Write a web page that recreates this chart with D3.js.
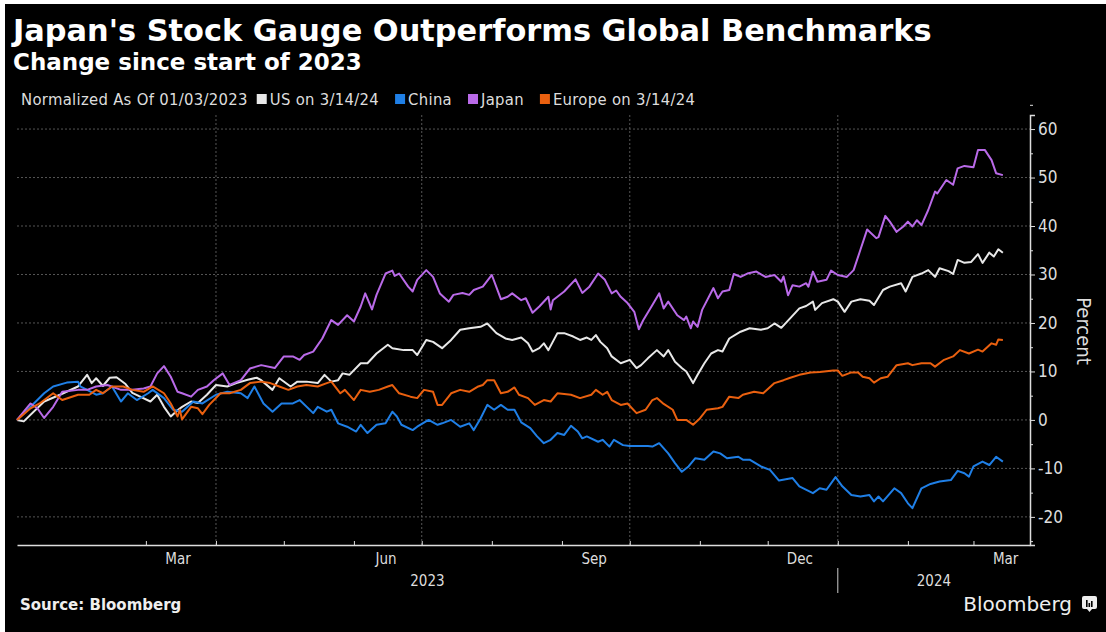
<!DOCTYPE html>
<html>
<head>
<meta charset="utf-8">
<script src="https://cdn.jsdelivr.net/npm/d3@7"></script>
<style>
  html, body { margin: 0; padding: 0; background: #fff; }
  svg { display: block; }
  .cond { font-family: "DejaVu Sans Condensed", "Liberation Sans Narrow", "DejaVu Sans", sans-serif; font-stretch: condensed; }
  .bold { font-family: "DejaVu Sans", sans-serif; font-weight: bold; }
</style>
</head>
<body>
<svg id="chart"></svg>
<script>
// data: [days since start, % change]
var startDate = "2023-01-03";
var endDate = "2024-03-26";

var usSeries = [[0,0],[3,-0.3],[12,3.8],[19,5.2],[27,6.9],[31,9.3],[33,7.6],[35,8.6],[38,7.0],[41,8.7],[44,8.8],[48,7.4],[51,5.6],[54,4.9],[59,3.8],[62,5.2],[65,2.7],[68,0.7],[71,2.0],[73,2.7],[77,3.8],[80,3.5],[84,5.2],[88,7.2],[93,6.9],[97,7.6],[102,8.3],[106,8.7],[108,8.2],[113,6.2],[116,8.6],[121,6.9],[124,7.9],[128,7.9],[133,7.6],[136,9.3],[139,7.9],[142,8.2],[144,9.6],[147,9.3],[152,11.7],[155,11.7],[159,13.7],[164,15.5],[166,14.8],[171,14.4],[175,14.4],[177,13.4],[181,16.5],[184,16.1],[188,14.8],[192,16.5],[196,18.6],[200,18.9],[205,19.2],[208,19.9],[212,17.9],[216,16.8],[219,16.5],[223,17.0],[226,15.8],[228,14.1],[231,14.8],[233,15.8],[235,14.4],[239,17.9],[242,17.9],[246,17.2],[249,16.5],[252,17.0],[254,16.5],[256,17.5],[258,16.1],[261,14.8],[263,13.1],[267,11.7],[271,12.4],[274,10.7],[276,11.3],[279,12.7],[283,14.4],[286,13.1],[288,14.4],[291,12.0],[294,10.7],[296,10.0],[299,7.6],[301,9.3],[304,11.7],[307,13.7],[310,14.4],[312,14.1],[315,16.8],[320,18.2],[324,18.9],[329,18.6],[332,18.9],[335,19.9],[338,19.0],[342,21.0],[346,23.0],[349,23.5],[352,24.4],[353,22.7],[356,24.1],[361,24.9],[363,24.4],[366,22.3],[369,24.4],[373,24.9],[377,24.6],[379,23.7],[383,26.8],[386,27.5],[391,28.2],[393,26.5],[396,29.5],[400,30.2],[403,30.9],[406,29.5],[408,31.3],[412,30.7],[414,30.1],[416,33.0],[419,32.4],[422,32.6],[425,34.2],[427,32.4],[430,34.5],[432,33.7],[434,35.2],[436,34.5]];

var chinaSeries = [[0,0],[6,2.7],[12,5.5],[16,6.9],[22,7.7],[27,7.9],[28,6.9],[31,6.2],[35,5.2],[38,5.5],[42,6.9],[46,3.8],[49,5.5],[53,4.1],[58,5.5],[60,6.2],[65,4.5],[69,2.1],[73,1.7],[78,3.8],[82,3.4],[88,5.2],[93,5.8],[99,5.5],[102,4.5],[105,6.9],[109,3.4],[113,1.7],[117,3.4],[122,3.4],[125,4.1],[131,1.4],[133,2.7],[137,1.7],[139,2.1],[142,-0.7],[146,-1.4],[150,-2.4],[152,-1.0],[155,-2.7],[159,-1.0],[163,-0.7],[166,1.7],[168,0.7],[170,-1.0],[175,-2.1],[177,-1.4],[182,0],[186,-1.0],[188,-0.7],[192,0],[196,-1.4],[200,-0.7],[202,-2.1],[205,0.3],[208,3.1],[211,2.1],[214,3.1],[217,2.1],[220,2.1],[223,-0.5],[227,-1.7],[230,-3.4],[233,-4.8],[236,-4.1],[239,-2.7],[242,-3.1],[245,-1.2],[248,-2.4],[250,-3.8],[252,-3.4],[257,-4.5],[259,-4.1],[262,-5.5],[264,-4.1],[268,-5.2],[271,-5.4],[279,-5.4],[281,-5.5],[284,-4.8],[288,-6.9],[291,-8.9],[294,-10.7],[297,-9.6],[300,-7.9],[304,-8.2],[308,-6.5],[311,-6.9],[314,-7.9],[319,-7.6],[321,-8.2],[324,-8.2],[329,-9.6],[333,-10.3],[337,-12.5],[343,-12.0],[346,-13.7],[352,-15.1],[355,-14.1],[358,-14.4],[362,-11.8],[365,-13.7],[369,-15.5],[373,-15.8],[377,-15.5],[379,-16.8],[381,-15.8],[383,-16.8],[388,-14.1],[391,-15.1],[394,-17.2],[396,-18.2],[400,-14.1],[404,-13.2],[408,-12.7],[413,-12.4],[416,-10.5],[419,-11.0],[421,-11.7],[423,-9.6],[427,-8.6],[430,-9.3],[433,-7.6],[436,-8.6]];

var japanSeries = [[0,0],[6,3.4],[9,2.4],[12,0.4],[16,2.7],[20,5.8],[27,6.2],[31,6.2],[35,6.9],[40,7.2],[46,6.2],[50,6.2],[56,6.5],[59,6.9],[62,9.6],[65,11.1],[68,8.9],[71,5.8],[73,5.5],[77,4.8],[80,6.2],[84,6.9],[87,8.2],[91,9.6],[94,7.2],[99,8.2],[103,10.6],[108,11.3],[114,10.7],[118,13.1],[122,13.1],[125,12.4],[127,13.4],[131,14.1],[135,16.8],[139,20.6],[142,19.6],[146,21.6],[149,20.3],[152,23.4],[154,26.1],[157,22.8],[159,25.8],[163,30.2],[166,30.8],[167,29.7],[169,30.2],[173,27.5],[175,26.5],[177,28.9],[181,30.9],[184,29.5],[187,26.1],[191,24.4],[193,25.8],[197,26.2],[200,25.8],[202,26.8],[206,27.5],[210,29.9],[214,24.9],[217,25.4],[219,26.1],[223,24.7],[225,25.1],[228,22.1],[231,23.4],[235,25.4],[236,22.8],[237,24.7],[242,26.5],[247,29.0],[250,26.2],[253,27.4],[257,30.2],[260,28.9],[263,26.1],[265,26.7],[267,25.4],[270,24.1],[273,22.3],[275,18.7],[277,20.6],[281,23.7],[284,26.1],[286,23.0],[288,24.4],[292,21.6],[295,20.6],[296,21.3],[298,18.9],[299,20.3],[301,19.2],[303,22.7],[308,27.2],[310,25.1],[312,26.5],[315,26.8],[317,30.1],[320,29.5],[323,30.2],[327,30.6],[331,29.5],[335,29.9],[338,28.5],[339,29.6],[341,25.7],[343,27.8],[346,27.5],[349,28.2],[350,27.5],[352,30.6],[354,28.5],[358,28.9],[360,30.8],[363,29.9],[367,29.5],[370,30.9],[373,35.1],[376,39.3],[380,37.5],[381,37.7],[384,42.1],[386,40.9],[389,38.8],[392,39.9],[394,40.9],[396,39.9],[398,41.2],[400,40.2],[403,43.3],[406,47.1],[407,46.7],[411,49.5],[414,48.5],[416,51.9],[419,52.4],[423,52.1],[425,55.7],[428,55.7],[431,53.6],[433,50.9],[436,50.5]];

var europeSeries = [[0,0],[6,2.4],[10,3.4],[16,5.5],[20,4.1],[27,5.2],[32,5.2],[35,6.2],[38,5.5],[42,6.9],[47,6.9],[51,6.2],[56,5.8],[60,6.9],[65,5.5],[68,3.4],[71,0.7],[72,2.1],[73,0.1],[77,2.7],[80,2.4],[82,1.2],[85,3.1],[90,5.5],[94,5.5],[99,6.2],[103,7.6],[108,7.9],[112,7.6],[116,6.9],[120,6.2],[124,6.9],[128,7.2],[133,6.9],[137,7.6],[139,7.9],[143,5.5],[145,6.2],[149,4.1],[152,6.2],[156,5.8],[160,6.2],[164,6.9],[166,7.2],[169,5.5],[174,4.8],[177,4.5],[180,6.2],[184,5.8],[186,3.1],[188,3.1],[192,5.5],[196,6.2],[200,5.8],[204,6.9],[206,7.2],[208,8.2],[211,8.2],[214,5.5],[217,5.8],[220,6.7],[222,5.2],[226,4.5],[229,3.1],[233,4.1],[236,3.8],[239,5.5],[245,5.2],[249,4.5],[254,5.2],[256,6.2],[259,5.2],[261,5.8],[263,4.1],[267,3.1],[270,3.4],[274,1.4],[278,2.1],[281,4.1],[283,4.5],[286,3.3],[290,2.1],[292,0],[296,0],[299,-1.0],[302,0.3],[305,2.1],[310,2.4],[312,2.7],[315,4.8],[319,4.5],[321,5.2],[326,5.8],[330,5.5],[335,7.6],[339,8.2],[342,8.7],[346,9.3],[351,9.8],[355,9.9],[361,10.2],[363,10.2],[365,9.1],[369,9.8],[372,9.8],[374,8.9],[377,8.6],[379,7.7],[382,8.6],[385,8.9],[389,11.3],[394,11.7],[396,11.3],[400,11.7],[404,11.7],[406,11.0],[410,12.4],[414,13.1],[417,14.4],[421,13.7],[425,14.5],[427,14.1],[431,15.8],[433,15.5],[434,16.6],[436,16.5]];

var seriesNames = ["US on 3/14/24", "China", "Japan", "Europe on 3/14/24"];
var seriesData = [usSeries, chinaSeries, japanSeries, europeSeries];
var seriesColors = ["#e8e8e8", "#1f7fe6", "#b96ae8", "#ea600f"];

var yTicks = [-20, -10, 0, 10, 20, 30, 40, 50, 60];
var monthLabels = ["Mar", "Jun", "Sep", "Dec", "Mar"];
var monthLabelDates = ["2023-03-15", "2023-06-15", "2023-09-15", "2023-12-15", "2024-03-15"];
var yearLabels = ["2023", "2024"];

var title = "Japan's Stock Gauge Outperforms Global Benchmarks";
var subtitle = "Change since start of 2023";
var legendNote = "Normalized As Of 01/03/2023";

var svgWidth = 1106, svgHeight = 632;
var plot = { left: 17, right: 1030, top: 115, bottom: 545 };

var svg = d3.select("#chart")
  .attr("width", svgWidth)
  .attr("height", svgHeight);

svg.append("rect").attr("width", svgWidth).attr("height", svgHeight).attr("fill", "#fff");
svg.append("rect").attr("x", 5).attr("y", 4)
  .attr("width", svgWidth - 5).attr("height", svgHeight - 4).attr("fill", "#000");

var parse = d3.utcParse("%Y-%m-%d");
var t0 = parse(startDate);

var x = d3.scaleUtc()
  .domain([t0, parse(endDate)])
  .range([plot.left, plot.right]);

var y = d3.scaleLinear()
  .domain([-25.8, 62.9])
  .range([plot.bottom, plot.top]);

//grid lines
svg.append("g")
  .selectAll("line")
  .data(yTicks)
  .enter().append("line")
  .attr("x1", plot.left).attr("x2", plot.right)
  .attr("y1", d => y(d)).attr("y2", d => y(d))
  .attr("stroke", "#555")
  .attr("stroke-dasharray", "2,2");

var quarters = d3.utcMonth.every(3).range(d3.utcMonth.offset(t0, 1), parse(endDate));
svg.append("g")
  .selectAll("line")
  .data(quarters)
  .enter().append("line")
  .attr("x1", d => x(d)).attr("x2", d => x(d))
  .attr("y1", plot.top).attr("y2", plot.bottom)
  .attr("stroke", "#555")
  .attr("stroke-dasharray", "2,2");

//lines
var line = d3.line()
  .x(d => x(d3.utcDay.offset(t0, d[0])))
  .y(d => y(d[1]));

svg.append("g")
  .selectAll("path")
  .data(seriesData)
  .enter().append("path")
  .attr("d", line)
  .attr("fill", "none")
  .attr("stroke", (d, i) => seriesColors[i])
  .attr("stroke-width", 2)
  .attr("stroke-linejoin", "round");

//right axis
var yAxis = svg.append("g")
  .attr("transform", `translate(${plot.right},0)`)
  .call(d3.axisRight(y).tickValues(yTicks).tickSize(5).tickPadding(3).tickFormat(d => String(d)));
yAxis.select(".domain").attr("stroke", "#ddd").attr("stroke-width", 1.5);
yAxis.selectAll(".tick line").attr("stroke", "#ddd");
yAxis.selectAll("text")
  .attr("class", "cond")
  .attr("fill", "#ddd")
  .style("font-size", "17px");

svg.append("g")
  .attr("transform", `translate(${plot.right},0)`)
  .call(d3.axisRight(y).tickValues(yTicks.map(d => d + 5).concat([-25])).tickSize(3).tickFormat(""))
  .call(g => g.select(".domain").remove())
  .selectAll("line").attr("stroke", "#ddd");

svg.append("text")
  .attr("class", "cond")
  .attr("transform", `translate(1077,331) rotate(90)`)
  .attr("text-anchor", "middle")
  .attr("fill", "#ddd")
  .style("font-size", "20px")
  .text("Percent");

//bottom axis
var months = d3.utcMonth.range(d3.utcMonth.offset(t0, 1), parse(endDate));
var xAxis = svg.append("g")
  .attr("transform", `translate(0,${plot.bottom})`)
  .call(d3.axisBottom(x).tickValues(months).tickSizeInner(-4).tickSizeOuter(0).tickFormat(""));
xAxis.select(".domain").attr("stroke", "#ddd").attr("stroke-width", 1.5);
xAxis.selectAll(".tick line").attr("stroke", "#ddd");

var monthAxis = svg.append("g")
  .attr("transform", `translate(0,${plot.bottom})`)
  .call(d3.axisBottom(x).tickValues(monthLabelDates.map(parse)).tickSize(0).tickPadding(8)
    .tickFormat((d, i) => monthLabels[i]));
monthAxis.select(".domain").remove();
monthAxis.selectAll("text")
  .attr("class", "cond")
  .attr("fill", "#ddd")
  .style("font-size", "15px");

var yearStart = parse("2024-01-01");
var yearCenters = [(x(t0) + x(yearStart)) / 2, (x(yearStart) + plot.right) / 2];
svg.append("g")
  .selectAll("text")
  .data(yearLabels)
  .enter().append("text")
  .attr("class", "cond")
  .attr("x", (d, i) => yearCenters[i])
  .attr("y", 586)
  .attr("text-anchor", "middle")
  .attr("fill", "#ddd")
  .style("font-size", "15px")
  .text(d => d);

svg.append("line")
  .attr("x1", x(yearStart)).attr("x2", x(yearStart))
  .attr("y1", 568).attr("y2", 593)
  .attr("stroke", "#ccc");

//titles
svg.append("text")
  .attr("class", "bold")
  .attr("x", 13).attr("y", 41)
  .attr("fill", "#fff")
  .style("font-size", "30.4px")
  .text(title);

svg.append("text")
  .attr("class", "bold")
  .attr("x", 13).attr("y", 70)
  .attr("fill", "#fff")
  .style("font-size", "23px")
  .text(subtitle);

//legend
var legend = svg.append("g").attr("transform", "translate(21,99)");
var note = legend.append("text")
  .attr("class", "cond")
  .attr("y", 5.5)
  .attr("fill", "#ddd")
  .style("font-size", "16.5px")
  .style("letter-spacing", "0.3px")
  .text(legendNote);
var lx = note.node().getComputedTextLength() + 9;
seriesNames.forEach(function (name, i) {
  legend.append("rect")
    .attr("x", lx).attr("y", -5)
    .attr("width", 10).attr("height", 10)
    .attr("fill", seriesColors[i]);
  var t = legend.append("text")
    .attr("class", "cond")
    .attr("x", lx + 13).attr("y", 5.5)
    .attr("fill", "#ddd")
    .style("font-size", "16.5px")
    .style("letter-spacing", "0.3px")
    .text(name);
  lx += 13 + t.node().getComputedTextLength() + 16;
});

//footer
svg.append("text")
  .attr("class", "bold")
  .attr("x", 20).attr("y", 610)
  .attr("fill", "#eee")
  .style("font-size", "15px")
  .text("Source: Bloomberg");

svg.append("text")
  .attr("x", 1072).attr("y", 611)
  .attr("text-anchor", "end")
  .attr("fill", "#eee")
  .style("font-family", "DejaVu Sans, sans-serif")
  .style("font-size", "20px")
  .text("Bloomberg");

var logo = svg.append("g").attr("transform", "translate(1082,596)");
logo.append("rect").attr("width", 15).attr("height", 13).attr("rx", 2).attr("fill", "#eee");
logo.append("path").attr("d", "M5,13 L7.5,16 L10,13 Z").attr("fill", "#eee");
[[4, 7], [6.5, 4], [9, 6]].forEach(function (b) {
  logo.append("rect").attr("x", b[0]).attr("y", 11 - b[1]).attr("width", 1.6).attr("height", b[1]).attr("fill", "#000");
});
</script>
</body>
</html>
